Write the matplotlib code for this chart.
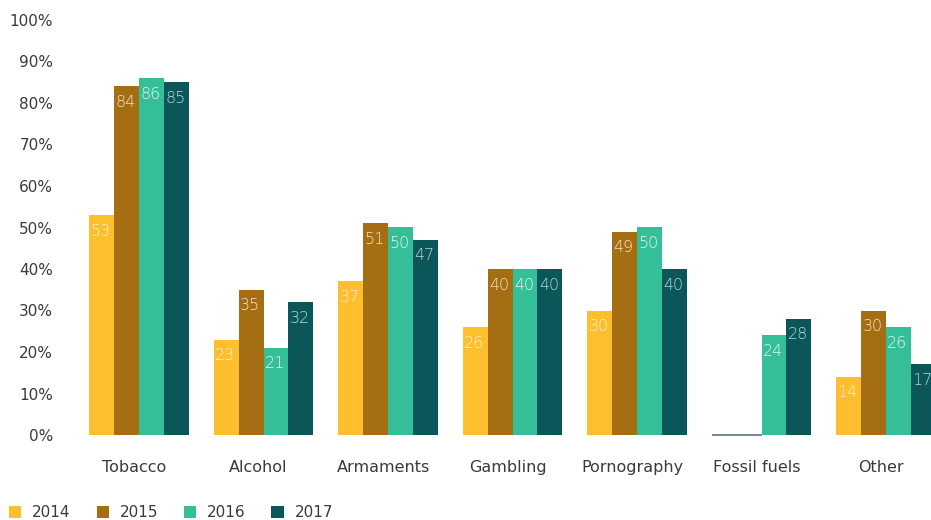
import matplotlib
matplotlib.use("Agg")
import matplotlib.pyplot as plt
import numpy as np

categories = ["Tobacco", "Alcohol", "Armaments", "Gambling", "Pornography", "Fossil fuels", "Other"]
years = ["2014", "2015", "2016", "2017"]
v2014 = [53, 23, 37, 26, 30, 0, 14]
v2015 = [84, 35, 51, 40, 49, 0, 30]
v2016 = [86, 21, 50, 40, 50, 24, 26]
v2017 = [85, 32, 47, 40, 40, 28, 17]
series = [v2014, v2015, v2016, v2017]
colors = ["#FDBF2D", "#A66E12", "#35BF98", "#0B5659"]
label_colors = ["#FFF3CF", "#F5E2C0", "#E0F7F0", "#B5D6D6"]

plt.rcParams['font.family'] = ['DejaVu Sans']
fig = plt.figure(figsize=(9.31, 5.2), dpi=100)
left_px, right_px = 76.75, 948.25
ax = fig.add_axes([left_px / 931, 85 / 520, (right_px - left_px) / 931, 415 / 520])

x = np.arange(len(categories))
w = 0.2
for j, (vals, c, lc, yr) in enumerate(zip(series, colors, label_colors, years)):
    xs = x + (j - 1.5) * w
    ax.bar(xs, vals, width=w, color=c, label=yr, linewidth=0)
    for xi, v in zip(xs, vals):
        if v == 0:
            ax.plot([xi - w / 2, xi + w / 2], [0, 0], color="#5F7282", lw=1.2,
                    solid_capstyle="butt", clip_on=False)
        else:
            ax.annotate(str(v), xy=(xi, v), xytext=(-1, -16), textcoords="offset pixels",
                        ha="center", va="center", fontsize=11.5, fontweight="light",
                        color=lc)

ax.set_xlim(-0.5, len(categories) - 0.5)
ax.set_ylim(0, 100)
ax.set_yticks(np.arange(0, 101, 10))
ax.set_yticklabels([f"{t}%" for t in range(0, 101, 10)])
ax.set_xticks(x - 0.04)
ax.set_xticklabels(categories)
for s in ax.spines.values():
    s.set_visible(False)
ax.tick_params(axis="both", length=0, colors="#3a3a3a", labelsize=11)
ax.tick_params(axis="x", labelsize=11.5, pad=18)
ax.tick_params(axis="y", pad=17)

fig.legend(loc="lower left", bbox_to_anchor=(0.0, -0.018), ncol=4, frameon=False,
           fontsize=11, handlelength=0.8, handleheight=0.8, handletextpad=0.7,
           columnspacing=1.7, borderaxespad=0.2, labelcolor="#3a3a3a")

fig.savefig("out.png", dpi=100)
